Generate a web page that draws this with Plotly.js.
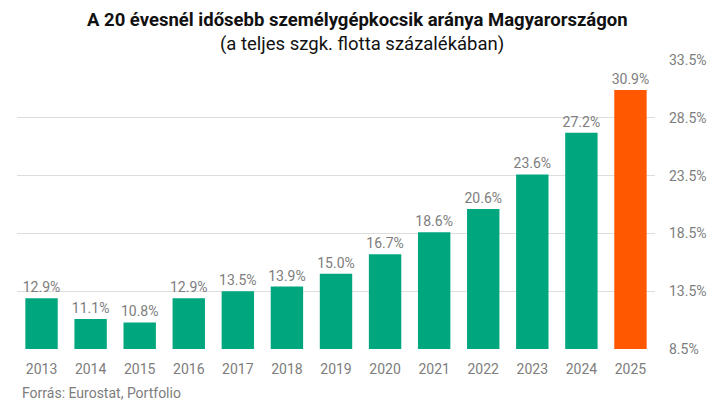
<!DOCTYPE html>
<html>
<head>
<meta charset="utf-8">
<script src="https://cdn.plot.ly/plotly-3.0.1.min.js"></script>
<style>
  html, body { margin: 0; padding: 0; background: #fff; }
  #graph { width: 718px; height: 415px; }
</style>
</head>
<body>
<div id="graph"></div>
<script>
var years = ['2013', '2014', '2015', '2016', '2017', '2018', '2019',
             '2020', '2021', '2022', '2023', '2024', '2025'];
var shares = [12.9, 11.1, 10.8, 12.9, 13.5, 13.9, 15.0, 16.7, 18.6, 20.6, 23.6, 27.2, 30.9];
var tickValues = [8.5, 13.5, 18.5, 23.5, 28.5, 33.5];

var green = 'rgb(0,166,126)';
var orange = 'rgb(255,88,0)';
var gray = 'rgb(125,125,125)';

function drawGraph() {
    var barColors = years.map(function (y) { return y === '2025' ? orange : green; });
    var labels = shares.map(function (v) { return v.toFixed(1) + '%'; });

    var trace = {
        type: 'bar',
        x: years,
        y: shares.map(function (v) { return v - 8.5; }),
        base: 8.5,
        text: labels,
        textposition: 'outside',
        constraintext: 'none',
        cliponaxis: false,
        textfont: { family: 'Roboto', size: 14, color: gray },
        marker: { color: barColors },
        hoverinfo: 'skip'
    };

    var layout = {
        width: 718,
        height: 415,
        margin: { l: 17, r: 63, t: 60, b: 66 },
        paper_bgcolor: '#fff',
        plot_bgcolor: '#fff',
        bargap: 0.34,
        showlegend: false,
        font: { family: 'Roboto', color: gray },
        xaxis: {
            type: 'category',
            tickfont: { family: 'Roboto', size: 14, color: gray },
            showgrid: false,
            showline: false,
            ticks: '',
            ticklabelstandoff: 10
        },
        yaxis: {
            side: 'right',
            range: [8.5, 33.5],
            tickvals: tickValues,
            ticktext: tickValues.map(function (v) { return v.toFixed(1) + '%'; }),
            tickfont: { family: 'Roboto', size: 14, color: gray },
            gridcolor: 'rgb(221,221,221)',
            gridwidth: 1,
            zeroline: false,
            showline: false,
            ticks: '',
            ticklabelstandoff: 13
        },
        annotations: [{
            text: '<b>A 20 évesnél idősebb személygépkocsik aránya Magyarországon</b>',
            xref: 'paper', yref: 'paper',
            x: 0.533, y: 1.138,
            xanchor: 'center', yanchor: 'middle',
            showarrow: false,
            font: { family: 'Roboto', size: 18.5, color: '#111' }
        }, {
            text: '(a teljes szgk. flotta százalékában)',
            xref: 'paper', yref: 'paper',
            x: 0.54, y: 1.055,
            xanchor: 'center', yanchor: 'middle',
            showarrow: false,
            font: { family: 'Roboto', size: 18.5, color: '#111' }
        }, {
            text: 'Forrás: Eurostat, Portfolio',
            xref: 'paper', yref: 'paper',
            x: 0.004, y: -0.153,
            xanchor: 'left', yanchor: 'middle',
            showarrow: false,
            font: { family: 'Roboto', size: 14, color: gray }
        }]
    };

    Plotly.newPlot('graph', [trace], layout, { displayModeBar: false, staticPlot: true });
}

drawGraph();
</script>
</body>
</html>
